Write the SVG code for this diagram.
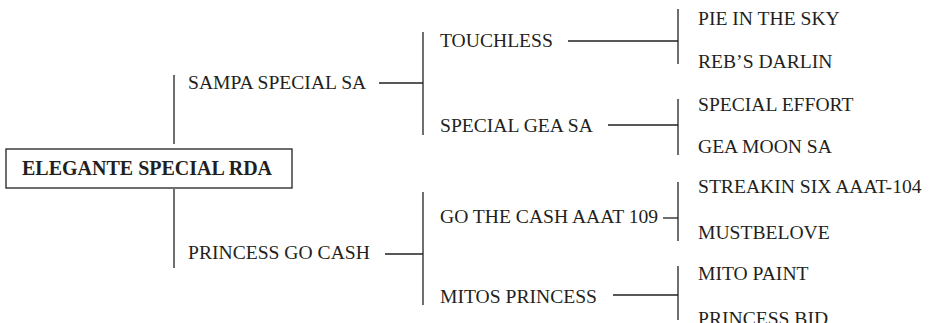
<svg xmlns="http://www.w3.org/2000/svg" width="942" height="323" viewBox="0 0 942 323">
<style>
text{font-family:"Liberation Serif","Times New Roman",serif;font-size:19.6px;fill:#231f20}
.b{font-weight:bold;font-size:20px}
.c line{stroke:#231f20;stroke-width:1.3;fill:none}
.box{stroke:#231f20;stroke-width:1.3;fill:#fff}
</style>
<rect x="0" y="0" width="942" height="323" fill="#fff"/>
<g id="connectors" class="c">
<line x1="174" y1="75" x2="174" y2="144"/>
<line x1="174" y1="189" x2="174" y2="268"/>
<line x1="379" y1="83" x2="423" y2="83"/>
<line x1="423" y1="32" x2="423" y2="135"/>
<line x1="385" y1="254" x2="423" y2="254"/>
<line x1="423" y1="192" x2="423" y2="305"/>
<line x1="568" y1="41" x2="678" y2="41"/>
<line x1="678" y1="9" x2="678" y2="64"/>
<line x1="608" y1="125" x2="678" y2="125"/>
<line x1="678" y1="99" x2="678" y2="155"/>
<line x1="663" y1="218" x2="678" y2="218"/>
<line x1="678" y1="182" x2="678" y2="241"/>
<line x1="613" y1="295" x2="678" y2="295"/>
<line x1="678" y1="266" x2="678" y2="320"/>
</g>
<g id="n-root"><rect class="box" x="6" y="149" width="286" height="39"/><text class="b" x="22" y="175">ELEGANTE SPECIAL RDA</text></g>
<g id="n-sampa"><text x="188" y="89">SAMPA SPECIAL SA</text></g>
<g id="n-princessgo"><text x="188" y="259">PRINCESS GO CASH</text></g>
<g id="n-touchless"><text x="440" y="47">TOUCHLESS</text></g>
<g id="n-specialgea"><text x="440" y="132">SPECIAL GEA SA</text></g>
<g id="n-gothecash"><text x="440" y="223">GO THE CASH AAAT 109</text></g>
<g id="n-mitos"><text x="440" y="303">MITOS PRINCESS</text></g>
<g id="n-pie"><text x="698" y="25">PIE IN THE SKY</text></g>
<g id="n-reb"><text x="698" y="68">REB’S DARLIN</text></g>
<g id="n-effort"><text x="698" y="111">SPECIAL EFFORT</text></g>
<g id="n-geamoon"><text x="698" y="153">GEA MOON SA</text></g>
<g id="n-streakin"><text x="698" y="193">STREAKIN SIX AAAT-104</text></g>
<g id="n-mustbelove"><text x="698" y="239">MUSTBELOVE</text></g>
<g id="n-mitopaint"><text x="698" y="280">MITO PAINT</text></g>
<g id="n-princessbid"><text x="698" y="325">PRINCESS BID</text></g>
</svg>
